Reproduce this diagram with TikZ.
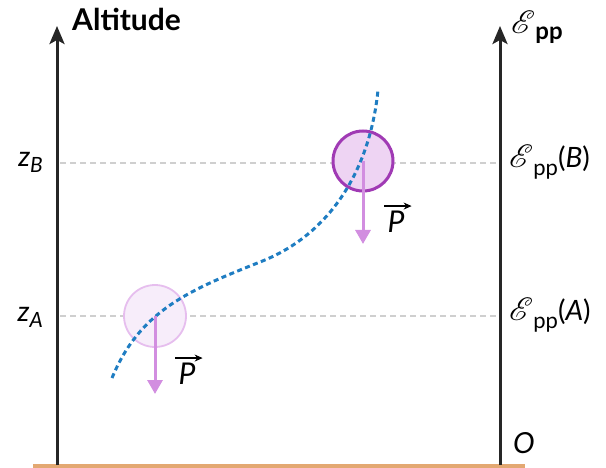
\documentclass[tikz,border=0pt]{standalone}
\usepackage{fontspec}
\usepackage{mathrsfs}
\usepackage{graphicx}
\setmainfont{Lato}
\usetikzlibrary{arrows.meta}
\definecolor{ground}{HTML}{E3A872}
\definecolor{curveblue}{HTML}{1F7DC2}
\definecolor{parrow}{HTML}{D28EE0}
\definecolor{circBdraw}{HTML}{A03AB4}
\definecolor{circBfill}{HTML}{EED4F3}
\definecolor{circAdraw}{HTML}{E6BEEE}
\definecolor{circAfill}{HTML}{F7EDFA}
\definecolor{guide}{HTML}{CFCFCF}
\newcommand{\scrE}{\scalebox{1.3}{$\mathscr{E}$}}
\tikzset{
  axis/.style={line width=3pt, draw=black!85, -{Stealth[length=18pt,width=15pt,inset=4pt]}},
  guideline/.style={draw=guide, line width=2pt, dash pattern=on 6pt off 4pt},
  weight/.style={draw=parrow, line width=3pt, -{Triangle[length=14pt,width=15pt]}},
  lbl/.style={font=\fontsize{28}{32}\selectfont, inner sep=0pt},
  vecbar/.style={draw=black, line width=1.5pt, -{Stealth[length=8pt,width=7pt]}},
}
\begin{document}
\begin{tikzpicture}[x=1pt,y=-1pt]
\useasboundingbox (0,0) rectangle (606,468);
% coordinates
\coordinate (LB) at (57,465);
\coordinate (LT) at (57,26);
\coordinate (RB) at (500,465);
\coordinate (RT) at (500,26);
\coordinate (GL) at (33,466);
\coordinate (GR) at (525,466);
\coordinate (ZB0) at (60,163);
\coordinate (ZB1) at (498,163);
\coordinate (ZA0) at (60,316);
\coordinate (ZA1) at (498,316);
\coordinate (CB) at (363,161);
\coordinate (CA) at (155,316);
\coordinate (PBend) at (363,244);
\coordinate (PAend) at (155,394);
\coordinate (S0) at (112,378);
\coordinate (S1) at (260,262);
\coordinate (S2) at (378,90);
% guides
\draw[guideline] (ZB0) -- (ZB1);
\draw[guideline] (ZA0) -- (ZA1);
% circles
\draw[draw=circAdraw, fill=circAfill, line width=1.8pt] (CA) circle (31);
\draw[draw=circBdraw, fill=circBfill, line width=3pt] (CB) circle (30);
% trajectory
\draw[draw=curveblue, line width=3pt, dash pattern=on 5pt off 3.5pt]
  (S0) .. controls (140,310) and (190,290) .. (S1)
       .. controls (330,235) and (370,170) .. (S2);
% weights
\draw[weight] (CB) -- (PBend);
\draw[weight] (CA) -- (PAend);
\node[lbl, font=\fontsize{30}{32}\selectfont\itshape] (PB) at (396,222) {P};
\draw[vecbar] ([xshift=-3pt,yshift=5pt]PB.north west) -- ([xshift=7pt,yshift=5pt]PB.north east);
\node[lbl, font=\fontsize{30}{32}\selectfont\itshape] (PA) at (187,374) {P};
\draw[vecbar] ([xshift=-3pt,yshift=5pt]PA.north west) -- ([xshift=7pt,yshift=5pt]PA.north east);
% axes
\draw[line width=4pt, draw=ground] (GL) -- (GR);
\draw[axis] (LB) -- (LT);
\draw[axis] (RB) -- (RT);
% labels
\node[lbl, font=\fontsize{30}{32}\selectfont\bfseries, anchor=base west] (alt) at (72,31) {Altitude};
\node[lbl, anchor=base west] (epp) at (511,34) {\scrE\raisebox{-6pt}{\fontsize{24}{26}\selectfont\bfseries pp}};
\node[lbl, anchor=base west] (eppB) at (509,168) {\scrE\raisebox{-8pt}{\fontsize{22}{24}\selectfont pp}(\textit{B})};
\node[lbl, anchor=base west] (eppA) at (509,320) {\scrE\raisebox{-8pt}{\fontsize{22}{24}\selectfont pp}(\textit{A})};
\node[lbl, anchor=base east] (zB) at (43,167) {\textit{z}\raisebox{-6pt}{\fontsize{21}{22}\selectfont\itshape B}};
\node[lbl, anchor=base east] (zA) at (43,321) {\textit{z}\raisebox{-6pt}{\fontsize{21}{22}\selectfont\itshape A}};
\node[lbl, anchor=base west, font=\fontsize{29}{30}\selectfont\itshape] (O) at (513,453) {O};
\end{tikzpicture}
\end{document}
